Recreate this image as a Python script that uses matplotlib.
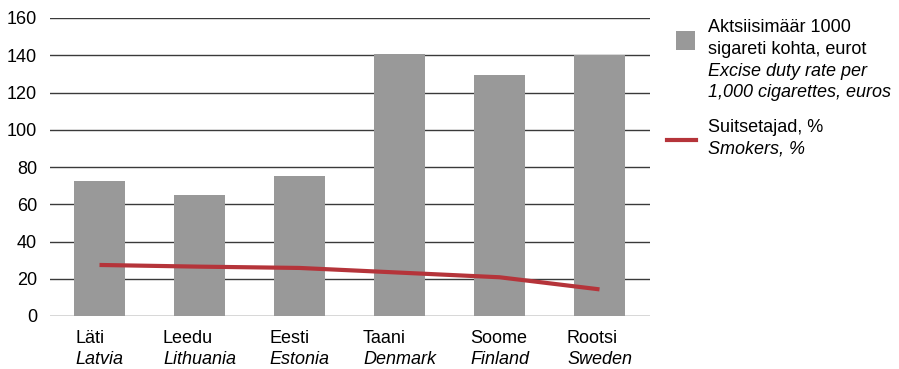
import matplotlib
matplotlib.use("Agg")
import matplotlib.pyplot as plt
from matplotlib.offsetbox import TextArea, VPacker, AnnotationBbox
from matplotlib.patches import Rectangle
from matplotlib.lines import Line2D

plt.rcParams['font.family'] = ['Liberation Sans', 'DejaVu Sans']

countries_et = ["Läti", "Leedu", "Eesti", "Taani", "Soome", "Rootsi"]
countries_en = ["Latvia", "Lithuania", "Estonia", "Denmark", "Finland", "Sweden"]
excise = [72.5, 65, 75, 140.7, 129.5, 140.1]
smokers = [27.4, 26.5, 25.8, 23.3, 20.8, 14.3]
yticks = [0, 20, 40, 60, 80, 100, 120, 140, 160]

FS = 13
W, H = 899, 369
fig = plt.figure(figsize=(W / 100, H / 100), dpi=100)
ax = fig.add_axes([49.5 / W, 53 / H, 600 / W, 298 / H])

x = list(range(len(countries_et)))
ax.bar(x, excise, width=0.51, color='#999999', zorder=2)
ax.plot(x, smokers, color='#b5343a', lw=3, zorder=3, solid_capstyle='butt')

ax.set_xlim(-0.5, 5.5)
ax.set_ylim(0, 160)
ax.set_yticks(yticks)
ax.set_yticklabels([str(v) for v in yticks], fontsize=FS)
ax.tick_params(axis='y', length=0, pad=9)
ax.set_xticks([])
for v in yticks:
    ax.axhline(v, color='#3a3a3a', lw=1, zorder=1)
for s in ax.spines.values():
    s.set_visible(False)

for i in x:
    box = VPacker(children=[
        TextArea(countries_et[i], textprops=dict(fontsize=FS)),
        TextArea(countries_en[i], textprops=dict(fontsize=FS, style='italic')),
    ], align='left', pad=0, sep=3)
    ab = AnnotationBbox(box, (i, 0), xycoords=('data', 'axes fraction'),
                        xybox=(0, -10), boxcoords='offset points',
                        box_alignment=(0.5, 1), frameon=False)
    ax.add_artist(ab)

def fx(px):
    return px / W

def fy(py):
    return 1 - py / H

fig.patches.append(Rectangle((fx(676), fy(50)), 19 / W, 19 / H, transform=fig.transFigure,
                             facecolor='#999999', edgecolor='none'))
leg1 = [("Aktsiisimäär 1000", 'normal'), ("sigareti kohta, eurot", 'normal'),
        ("Excise duty rate per", 'italic'), ("1,000 cigarettes, euros", 'italic')]
for k, (t, st) in enumerate(leg1):
    fig.text(fx(708), fy(28 + 21.5 * k), t, fontsize=FS, style=st, va='center', ha='left')

fig.lines.append(Line2D([fx(667), fx(696)], [fy(140), fy(140)], transform=fig.transFigure,
                        color='#b5343a', lw=3))
leg2 = [("Suitsetajad, %", 'normal'), ("Smokers, %", 'italic')]
for k, (t, st) in enumerate(leg2):
    fig.text(fx(708), fy(128 + 21 * k), t, fontsize=FS, style=st, va='center', ha='left')

fig.savefig("out.png", dpi=100)
